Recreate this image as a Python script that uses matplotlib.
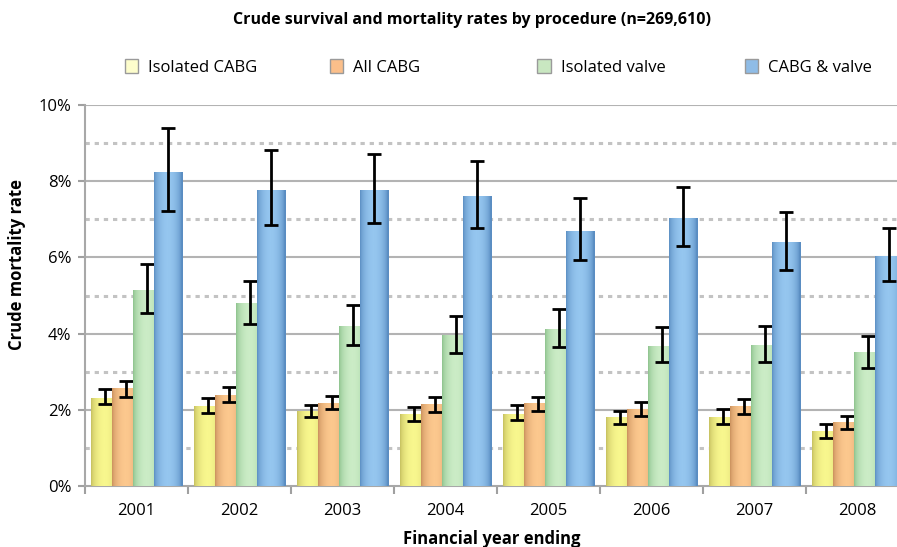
import numpy as np
import matplotlib
matplotlib.use("Agg")
import matplotlib.pyplot as plt
from matplotlib.colors import LinearSegmentedColormap
from matplotlib.patches import Patch

plt.rcParams['font.family'] = ['Open Sans', 'DejaVu Sans']

years = ['2001', '2002', '2003', '2004', '2005', '2006', '2007', '2008']
series = ['Isolated CABG', 'All CABG', 'Isolated valve', 'CABG & valve']

# crude mortality rate (%) and 95% CI bounds
iso_cabg = [2.32, 2.10, 1.97, 1.90, 1.90, 1.80, 1.80, 1.45]
iso_cabg_lo = [2.15, 1.91, 1.82, 1.71, 1.73, 1.62, 1.64, 1.27]
iso_cabg_hi = [2.54, 2.31, 2.13, 2.08, 2.12, 1.97, 2.02, 1.62]

all_cabg = [2.56, 2.39, 2.19, 2.15, 2.18, 2.03, 2.10, 1.67]
all_cabg_lo = [2.34, 2.21, 2.02, 1.93, 1.97, 1.84, 1.89, 1.49]
all_cabg_hi = [2.76, 2.60, 2.37, 2.34, 2.34, 2.21, 2.28, 1.84]

iso_valve = [5.15, 4.80, 4.20, 3.97, 4.13, 3.68, 3.71, 3.51]
iso_valve_lo = [4.53, 4.24, 3.71, 3.48, 3.64, 3.25, 3.26, 3.10]
iso_valve_hi = [5.83, 5.39, 4.74, 4.46, 4.64, 4.18, 4.21, 3.95]

cabg_valve = [8.24, 7.78, 7.78, 7.62, 6.69, 7.03, 6.40, 6.05]
cabg_valve_lo = [7.21, 6.84, 6.90, 6.76, 5.94, 6.29, 5.68, 5.37]
cabg_valve_hi = [9.39, 8.82, 8.71, 8.53, 7.56, 7.85, 7.19, 6.77]

values = [iso_cabg, all_cabg, iso_valve, cabg_valve]
lows = [iso_cabg_lo, all_cabg_lo, iso_valve_lo, cabg_valve_lo]
highs = [iso_cabg_hi, all_cabg_hi, iso_valve_hi, cabg_valve_hi]

dark = ['#c4be5e', '#c98f5c', '#8cc28c', '#5a8dc2']
light = ['#f8f78e', '#fcc88e', '#cbecc6', '#95c6ef']
legend_col = ['#fdfdcc', '#fbbf8a', '#c9e7c1', '#8fbce6']

fig = plt.figure(figsize=(8.97, 5.47), dpi=100)
ax = fig.add_axes([0.0948, 0.1115, 0.9186, 0.6965])

x = np.arange(len(years))
step = 0.204
width = 0.28

# horizontal gradient profile for the bars
t = np.linspace(0, 1, 64)
prof = np.sin(np.pi * np.clip(t * 1.05, 0, 1)) ** 0.6
grad = prof[np.newaxis, :]

for i, (vals, lo, hi) in enumerate(zip(values, lows, highs)):
    pos = x + (i - 1.5) * step
    z = 3 + i
    bars = ax.bar(pos, vals, width, color=light[i], zorder=z, linewidth=0)
    cmap = LinearSegmentedColormap.from_list('g%d' % i, [dark[i], light[i]])
    for p in bars:
        bx, bw, bh = p.get_x(), p.get_width(), p.get_height()
        im = ax.imshow(grad, extent=[bx, bx + bw, 0, bh], aspect='auto',
                       cmap=cmap, vmin=0, vmax=1, zorder=z, interpolation='bilinear')
        im.set_clip_path(p)
    err = [np.array(vals) - np.array(lo), np.array(hi) - np.array(vals)]
    ax.errorbar(pos, vals, yerr=err, fmt='none', ecolor='black', elinewidth=2,
                capsize=5, capthick=2, zorder=z + 0.5)

ax.set_xlim(-0.5, len(years) - 0.5)
ax.set_ylim(0, 10)

# grid
for yv in [2, 4, 6, 8, 10]:
    ax.axhline(yv, color='#b3b3b3', lw=1.5, zorder=1)
for yv in [1, 3, 5, 7, 9]:
    ax.axhline(yv, color='#c3c3c3', lw=2.2, ls=(0, (1.4, 1.6)), zorder=1)

ax.set_yticks([0, 2, 4, 6, 8, 10])
ax.set_yticklabels(['0%', '2%', '4%', '6%', '8%', '10%'])
ax.set_xticks(x)
ax.set_xticklabels(years)
ax.set_xticks(np.arange(len(years) + 1) - 0.5, minor=True)
ax.tick_params(axis='x', which='major', length=0, labelsize=12, pad=12)
ax.tick_params(axis='x', which='minor', length=6, width=1.5, color='#a0a0a0')
ax.tick_params(axis='y', length=5, width=1.5, color='#a0a0a0', labelsize=12, pad=5)

for s in ['top', 'right']:
    ax.spines[s].set_visible(False)
for s in ['left', 'bottom']:
    ax.spines[s].set_color('#a8a8a8')
    ax.spines[s].set_linewidth(1.5)

fig.text(0.0195, 0.517, 'Crude mortality rate', rotation=90, ha='center', va='center',
         fontsize=12, fontweight='bold')
fig.text(0.548, 0.014, 'Financial year ending', ha='center', va='center',
         fontsize=12, fontweight='bold')
fig.text(0.526, 0.963, 'Crude survival and mortality rates by procedure (n=269,610)',
         ha='center', va='center', fontsize=11.5, fontweight='bold')

# legend entries spaced evenly like the original
leg_x = [0.139, 0.368, 0.599, 0.830]
for i, name in enumerate(series):
    h = Patch(facecolor=legend_col[i], edgecolor='#9a9a9a', linewidth=1)
    fig.legend([h], [name], loc='center left', bbox_to_anchor=(leg_x[i], 0.877),
               frameon=False, fontsize=12, handlelength=0.8, handleheight=0.9,
               handletextpad=0.6, borderaxespad=0, borderpad=0)

fig.savefig('out.png', dpi=100)
